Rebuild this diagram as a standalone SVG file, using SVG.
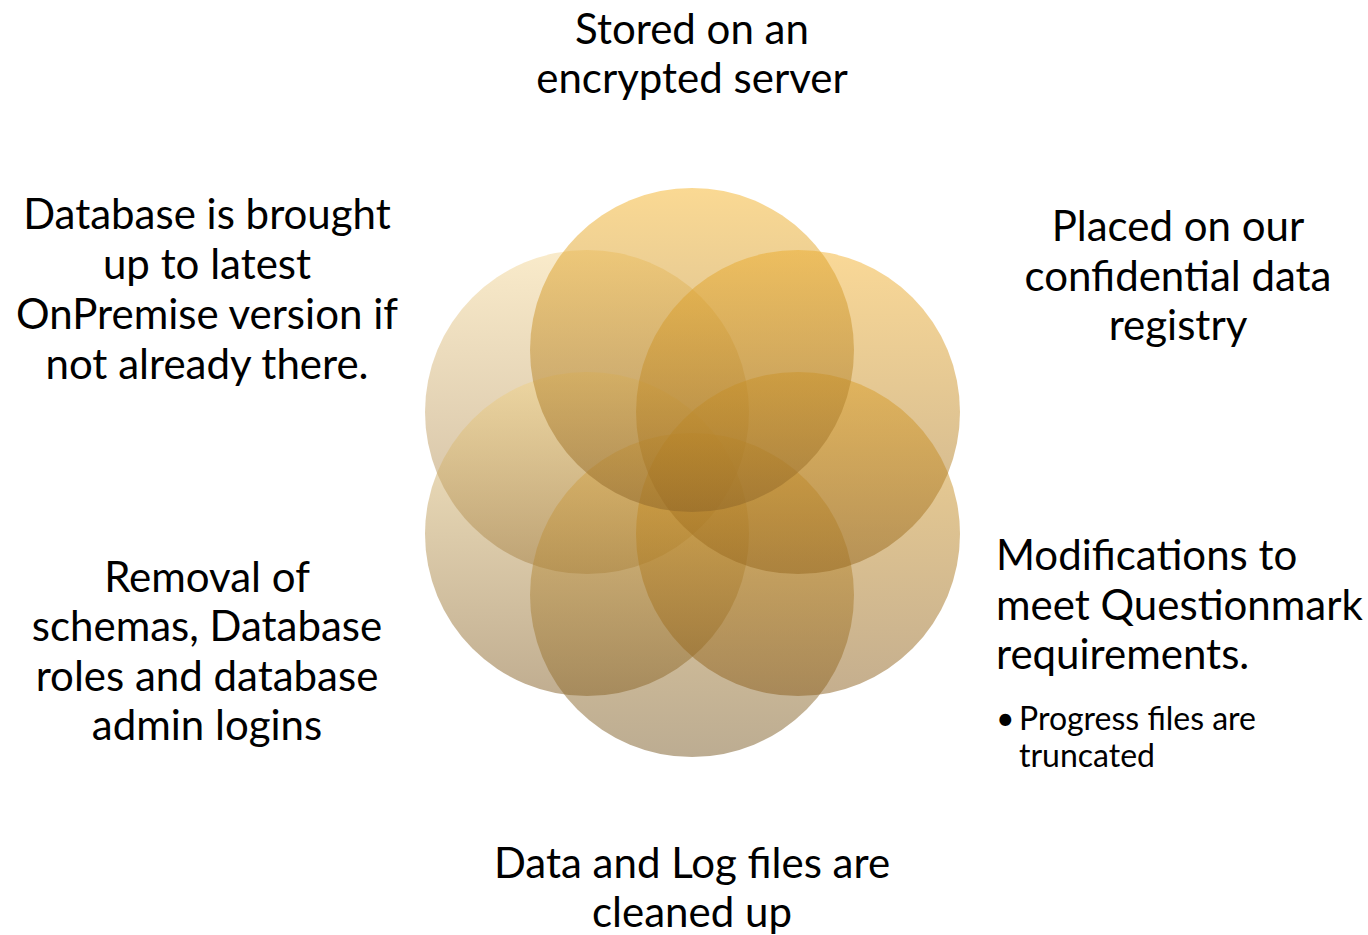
<svg xmlns="http://www.w3.org/2000/svg" width="1368" height="935" viewBox="0 0 1368 935">
<defs>
<style>
.t{font-family:Lato,"Open Sans","Liberation Sans",sans-serif;font-size:42px;fill:#000}
.s{font-family:Lato,"Open Sans","Liberation Sans",sans-serif;font-size:32px;fill:#000}
.c{text-anchor:middle}
.ci{fill-opacity:0.5}
</style>
<linearGradient id="g1" x1="0" y1="0" x2="0" y2="1"><stop offset="0" stop-color="#F5B328"/><stop offset="1" stop-color="#8C6428"/></linearGradient>
<linearGradient id="g2" x1="0" y1="0" x2="0" y2="1"><stop offset="0" stop-color="#F4B22F"/><stop offset="1" stop-color="#94661E"/></linearGradient>
<linearGradient id="g3" x1="0" y1="0" x2="0" y2="1"><stop offset="0" stop-color="#E8A928"/><stop offset="1" stop-color="#8A5E1E"/></linearGradient>
<linearGradient id="g4" x1="0" y1="0" x2="0" y2="1"><stop offset="0" stop-color="#DCAA48"/><stop offset="1" stop-color="#7A5A25"/></linearGradient>
<linearGradient id="g5" x1="0" y1="0" x2="0" y2="1"><stop offset="0" stop-color="#F2D48A"/><stop offset="1" stop-color="#825C22"/></linearGradient>
<linearGradient id="g6" x1="0" y1="0" x2="0" y2="1"><stop offset="0" stop-color="#F4D796"/><stop offset="1" stop-color="#9C7640"/></linearGradient>
</defs>
<rect width="1368" height="935" fill="#fff"/>
<g id="circles">
<circle id="c6" class="ci" cx="587" cy="412" r="162" fill="url(#g6)"/>
<circle id="c5" class="ci" cx="587" cy="534" r="162" fill="url(#g5)"/>
<circle id="c4" class="ci" cx="692" cy="595" r="162" fill="url(#g4)"/>
<circle id="c3" class="ci" cx="798" cy="534" r="162" fill="url(#g3)"/>
<circle id="c2" class="ci" cx="798" cy="412" r="162" fill="url(#g2)"/>
<circle id="c1" class="ci" cx="692" cy="350" r="162" fill="url(#g1)"/>
</g>
<g id="n1"><text class="t c" x="692" y="44">Stored on an</text><text class="t c" x="692" y="93">encrypted server</text></g>
<g id="n2"><text class="t c" x="1178" y="241">Placed on our</text><text class="t c" x="1178" y="291">confidential data</text><text class="t c" x="1178" y="340">registry</text></g>
<g id="n3"><text class="t" x="996" y="570">Modifications to</text><text class="t" x="996" y="620">meet Questionmark</text><text class="t" x="996" y="669">requirements.</text>
<text class="s" x="996" y="730">•</text><text class="s" x="1019" y="730">Progress files are</text><text class="s" x="1019" y="767">truncated</text></g>
<g id="n4"><text class="t c" x="692" y="878">Data and Log files are</text><text class="t c" x="692" y="927">cleaned up</text></g>
<g id="n5"><text class="t c" x="207" y="592">Removal of</text><text class="t c" x="207" y="641">schemas, Database</text><text class="t c" x="207" y="691">roles and database</text><text class="t c" x="207" y="740">admin logins</text></g>
<g id="n6"><text class="t c" x="207" y="229">Database is brought</text><text class="t c" x="207" y="279">up to latest</text><text class="t c" x="207" y="329">OnPremise version if</text><text class="t c" x="207" y="379">not already there.</text></g>
<g id="connectors"/>
</svg>
